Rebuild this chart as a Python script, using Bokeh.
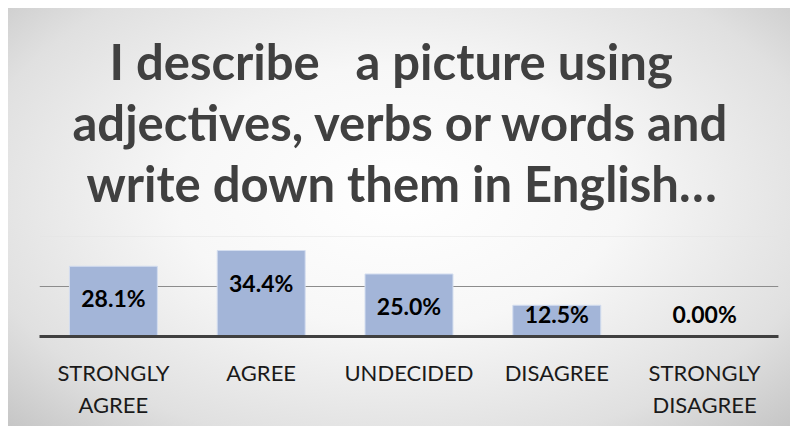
from bokeh.plotting import figure
from bokeh.models import ColumnDataSource, LabelSet, Title, FixedTicker, Grid, FactorRange
from bokeh.core.properties import value
from bokeh.embed import file_html
from bokeh.resources import INLINE

categories = ["STRONGLY\nAGREE", "AGREE", "UNDECIDED", "DISAGREE", "STRONGLY\nDISAGREE"]
values = [0.281, 0.344, 0.250, 0.125, 0.0]
labels = ["28.1%", "34.4%", "25.0%", "12.5%", "0.00%"]
title_lines = ["I describe \u00a0\u00a0a picture using",
               "adjectives, verbs or words and",
               "write down them in English\u2026"]

label_y = [max(v - 0.128, 0.092) for v in values]
src = ColumnDataSource(dict(cat=categories, val=values, lab=labels, ly=label_y))

p = figure(width=798, height=433, output_backend="svg", toolbar_location=None,
           x_range=FactorRange(*categories, range_padding=0), y_range=(0, 0.40),
           min_border_left=39, min_border_right=20, min_border_top=236, min_border_bottom=97,
           title=None)
p.border_fill_color = None
p.background_fill_color = None
p.outline_line_color = None
p.styles = {
    "background-color": "white",
    "background-image": "radial-gradient(ellipse at 50% 45%, #ffffff 0%, #f7f7f7 40%, #e0e0e0 78%, #c6c6c6 100%)",
    "background-size": "782px 418px",
    "background-position": "8px 8px",
    "background-repeat": "no-repeat",
}

p.vbar(x="cat", top="val", width=0.595, source=src,
       fill_color="#a3b5d8", line_color="#d3ddef", line_width=1)

p.yaxis.visible = False
p.xgrid.visible = False
p.ygrid.ticker = FixedTicker(ticks=[0.2])
p.ygrid.grid_line_color = "#8c8c8c"
p.ygrid.grid_line_width = 1
p.add_layout(Grid(dimension=1, ticker=FixedTicker(ticks=[0.399]),
                  grid_line_color="#e3e3e3", grid_line_width=1))

ax = p.xaxis
ax.axis_line_color = "#404040"
ax.axis_line_width = 3
ax.major_tick_line_color = None
ax.minor_tick_line_color = None
ax.major_label_text_font = "Lato"
ax.major_label_text_font_size = "22px"
ax.major_label_text_color = "#1a1a1a"
ax.major_label_standoff = 16

lbl = LabelSet(x="cat", y="ly", text="lab", source=src, text_align="center",
               text_baseline="middle", text_font=value("Lato"), text_font_style="bold",
               text_font_size="23px", text_color="#000000")
p.add_layout(lbl)

# spacer between the title block and the plot area
p.add_layout(Title(text=" ", text_font_size="10px", standoff=11), "above")
offsets = [70, 33, 47]
for line, off in reversed(list(zip(title_lines, offsets))):
    p.add_layout(Title(text=line, align="left", text_font="Lato", text_font_style="bold",
                       text_font_size="49px", text_color="#404040", standoff=1,
                       offset=off), "above")

open("out.html", "w").write(file_html(p, INLINE))
